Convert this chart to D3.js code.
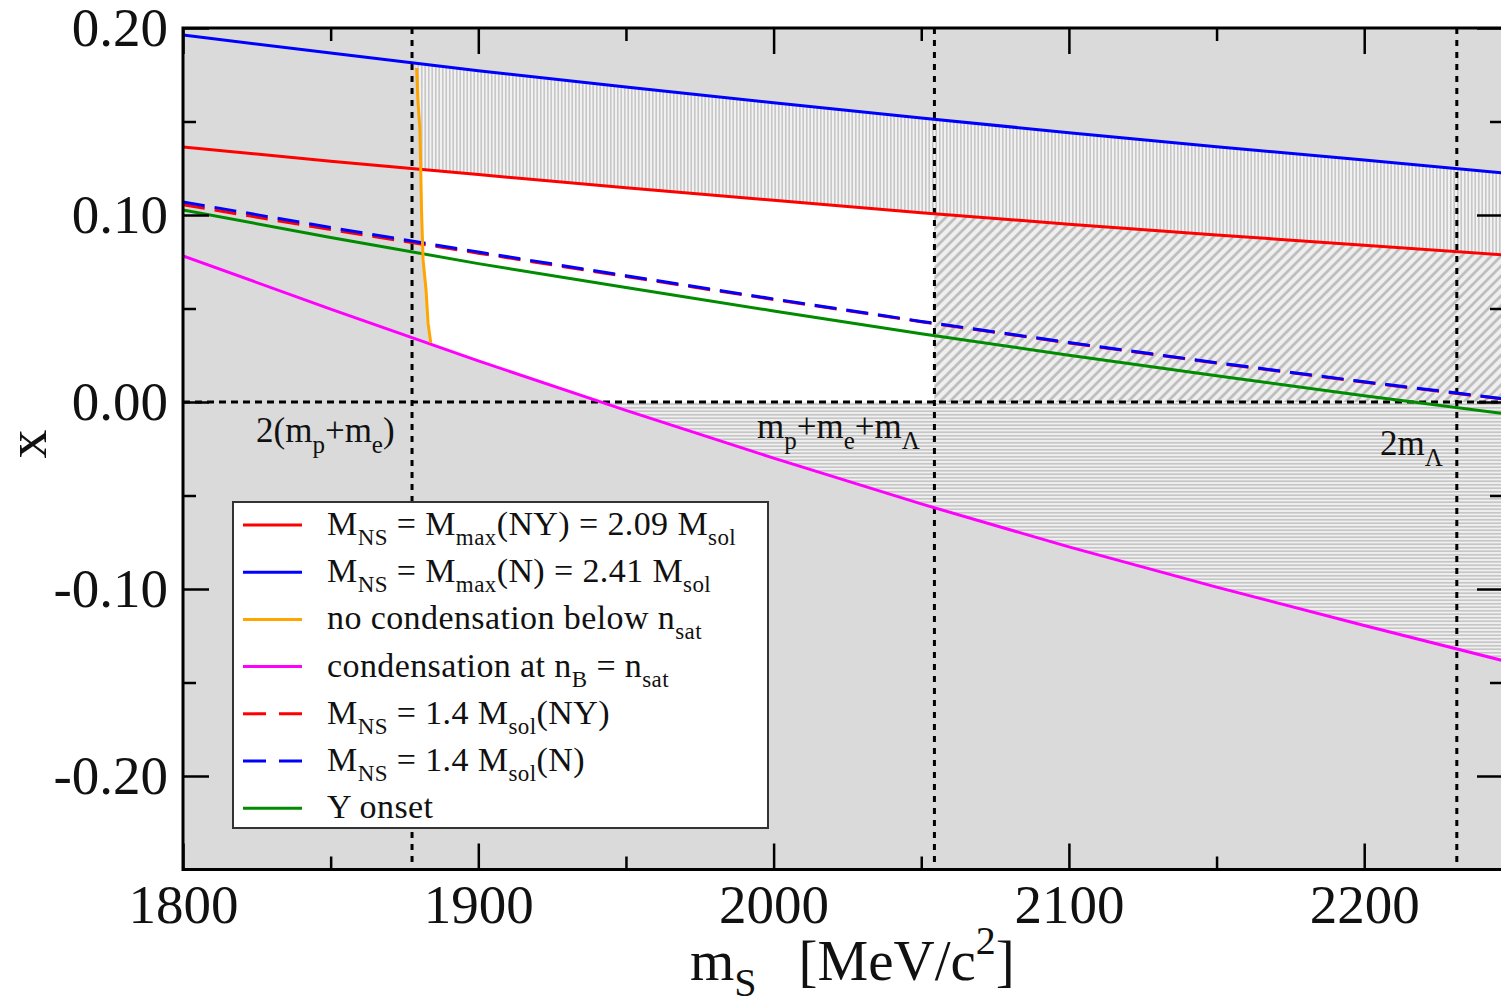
<!DOCTYPE html>
<html>
<head>
<meta charset="utf-8">
<script src="https://cdn.jsdelivr.net/npm/d3@7"></script>
<style>
  html, body { margin: 0; padding: 0; background: #ffffff; }
  svg { display: block; }
  text { font-family: "Liberation Serif", "Times New Roman", serif; fill: #111; }
</style>
</head>
<body>
<svg id="chart" width="1501" height="1006"></svg>
<script>
// Strange-quark-matter mass window: x versus m_S, curves sampled on a common grid
const mS        = [1800, 1850, 1900, 1950, 2000, 2050, 2100, 2150, 2200, 2250];
const xMaxN     = [0.1963, 0.1866, 0.1772, 0.1684, 0.1600, 0.1519, 0.1440, 0.1365, 0.1294, 0.1220];
const xMaxNY    = [0.1364, 0.1288, 0.1216, 0.1146, 0.1079, 0.1012, 0.0951, 0.0893, 0.0838, 0.0784];
const x14NY     = [0.1055, 0.0922, 0.0796, 0.0671, 0.0548, 0.0429, 0.0316, 0.0208, 0.0106, 0.0010];
const x14N      = [0.1070, 0.0933, 0.0802, 0.0675, 0.0551, 0.0431, 0.0318, 0.0210, 0.0108, 0.0012];
const xOnset    = [0.1027, 0.0880, 0.0740, 0.0612, 0.0487, 0.0365, 0.0250, 0.0140, 0.0034, -0.0068];
const xCondSat  = [0.0781, 0.0497, 0.0220, -0.0045, -0.0300, -0.0545, -0.0775, -0.0990, -0.1195, -0.1395];

// "no condensation below n_sat" boundary (nearly vertical)
const noCondMS  = [1879.1, 1879.6, 1880.2, 1880.5, 1880.8, 1881.3, 1882.3, 1883.0, 1883.9];
const noCondX   = [0.1786, 0.1600, 0.1465, 0.1250, 0.1010, 0.0760, 0.0600, 0.0420, 0.0316];

// Thresholds: 2(m_p+m_e), m_p+m_e+m_Λ, 2m_Λ
const thresholdMS = [1877.56, 2054.46, 2231.36];
const thresholdLabels = [
  [["2(m"], ["p", 1], ["+m"], ["e", 1], [")"]],
  [["m"], ["p", 1], ["+m"], ["e", 1], ["+m"], ["Λ", 1]],
  [["2m"], ["Λ", 1]]
];

const xTicks = [1800, 1900, 2000, 2100, 2200];
const xMinor = [1850, 1950, 2050, 2150, 2250];
const yTicks = [0.20, 0.10, 0.00, -0.10, -0.20];
const yMinor = [0.15, 0.05, -0.05, -0.15];

const legendItems = [
  { color: "#ff0000", dash: null, parts: [["M"], ["NS", 1], [" = M"], ["max", 1], ["(NY) = 2.09 M"], ["sol", 1]] },
  { color: "#0000ff", dash: null, parts: [["M"], ["NS", 1], [" = M"], ["max", 1], ["(N) = 2.41 M"], ["sol", 1]] },
  { color: "#ffa500", dash: null, parts: [["no condensation below n"], ["sat", 1]] },
  { color: "#ff00ff", dash: null, parts: [["condensation at n"], ["B", 1], [" = n"], ["sat", 1]] },
  { color: "#ff0000", dash: "22,10", parts: [["M"], ["NS", 1], [" = 1.4 M"], ["sol", 1], ["(NY)"]] },
  { color: "#0000ff", dash: "22,10", parts: [["M"], ["NS", 1], [" = 1.4 M"], ["sol", 1], ["(N)"]] },
  { color: "#008b00", dash: null, parts: [["Y onset"]] }
];

const svg = d3.select("#chart");
const L = 183, R = 1503, T = 28, B = 869.5;
const x = d3.scaleLinear().domain([1800, 2247]).range([L, R]);
const y = d3.scaleLinear().domain([-0.25, 0.20]).range([B, T]);
const mMax = 2250;

// piecewise-linear curve lookups
const curve = vals => d3.scaleLinear().domain(mS).range(vals);
const fMaxN = curve(xMaxN), fMaxNY = curve(xMaxNY), fCond = curve(xCondSat);

function sample(fn, a, b) {
  const pts = [[a, fn(a)]];
  mS.forEach(m => { if (m > a && m < b) pts.push([m, fn(m)]); });
  pts.push([b, fn(b)]);
  return pts;
}
// where the no-condensation boundary meets a curve
function meetNoCond(fn) {
  for (let i = 0; i < noCondMS.length - 1; i++) {
    const d0 = noCondX[i] - fn(noCondMS[i]), d1 = noCondX[i + 1] - fn(noCondMS[i + 1]);
    if (d0 >= 0 && d1 < 0) {
      const t = d0 / (d0 - d1);
      return { i, m: noCondMS[i] + t * (noCondMS[i + 1] - noCondMS[i]), v: noCondX[i] + t * (noCondX[i + 1] - noCondX[i]) };
    }
  }
  return { i: 0, m: noCondMS[0], v: noCondX[0] };
}
function zeroOf(vals) {
  for (let i = 0; i < vals.length - 1; i++) {
    if (vals[i] >= 0 && vals[i + 1] < 0) return mS[i] + vals[i] / (vals[i] - vals[i + 1]) * (mS[i + 1] - mS[i]);
  }
  return mMax;
}

const mLam = thresholdMS[1];
const cRed = meetNoCond(fMaxNY);
const mZero = zeroOf(xCondSat);
const nEnd = noCondMS.length - 1;

const defs = svg.append("defs");
defs.append("clipPath").attr("id", "plotClip").append("rect")
  .attr("x", L).attr("y", T).attr("width", R - L).attr("height", B - T);

function hatch(id, w, h, rot, lineW, bg, fg, vertical) {
  const p = defs.append("pattern").attr("id", id).attr("patternUnits", "userSpaceOnUse")
    .attr("width", w).attr("height", h);
  if (rot) p.attr("patternTransform", `rotate(${rot})`);
  p.append("rect").attr("width", w).attr("height", h).attr("fill", bg);
  if (vertical) p.append("line").attr("x1", w / 2).attr("x2", w / 2).attr("y1", 0).attr("y2", h).attr("stroke", fg).attr("stroke-width", lineW);
  else p.append("line").attr("y1", h / 2).attr("y2", h / 2).attr("x1", 0).attr("x2", w).attr("stroke", fg).attr("stroke-width", lineW);
}
hatch("vHatch", 3.5, 10, 0, 1.3, "#f4f4f4", "#b8b8b8", true);
hatch("dHatch", 7, 10, 45, 2.6, "#efefef", "#bababa", true);
hatch("hHatch", 10, 3.5, 0, 1.3, "#f0f0f0", "#b8b8b8", false);

// plot background
svg.append("rect").attr("x", L).attr("y", T).attr("width", R - L).attr("height", B - T).attr("fill", "#dadada");

const plot = svg.append("g").attr("clip-path", "url(#plotClip)");
const toPx = pts => pts.map(p => [x(p[0]), y(p[1])]);
const poly = pts => "M" + toPx(pts).map(p => p.join(",")).join("L") + "Z";

// vertical hatch: between the two M_max curves, right of the no-condensation boundary
{
  const top = sample(fMaxN, noCondMS[0], mMax);
  const bot = sample(fMaxNY, cRed.m, mMax).reverse();
  const left = [];
  for (let i = cRed.i; i >= 0; i--) left.push([noCondMS[i], noCondX[i]]);
  plot.append("path").attr("d", poly(top.concat(bot, left))).attr("fill", "url(#vHatch)");
}
// allowed window (white)
{
  const pts = [[cRed.m, cRed.v]].concat(sample(fMaxNY, cRed.m, mLam));
  pts.push([mLam, 0], [mZero, 0]);
  sample(fCond, noCondMS[nEnd], mZero).reverse().forEach(p => pts.push(p));
  for (let i = nEnd; i > cRed.i; i--) pts.push([noCondMS[i], noCondX[i]]);
  plot.append("path").attr("d", poly(pts)).attr("fill", "#ffffff");
}
// diagonal hatch: beyond the m_p+m_e+m_Λ threshold, 0 < x < M_max(NY)
{
  const pts = sample(fMaxNY, mLam, mMax).concat([[mMax, 0], [mLam, 0]]);
  plot.append("path").attr("d", poly(pts)).attr("fill", "url(#dHatch)");
}
// horizontal hatch: x < 0 above the condensation curve
{
  const pts = [[mZero, 0], [mMax, 0]].concat(sample(fCond, mZero, mMax).reverse());
  plot.append("path").attr("d", poly(pts)).attr("fill", "url(#hHatch)");
}

// dotted reference lines
plot.append("line").attr("x1", L).attr("x2", R).attr("y1", y(0)).attr("y2", y(0))
  .attr("stroke", "#000").attr("stroke-width", 3).attr("stroke-dasharray", "7,5");
plot.selectAll("line.thr").data(thresholdMS).join("line").attr("class", "thr")
  .attr("x1", d => x(d)).attr("x2", d => x(d)).attr("y1", T).attr("y2", B)
  .attr("stroke", "#000").attr("stroke-width", 3).attr("stroke-dasharray", "6,6");

// rich text with subscripts
function rich(sel, parts, size, subSize, shift) {
  sel.attr("font-size", size);
  let down = false;
  parts.forEach(([s, sub]) => {
    const t = sel.append("tspan").text(s);
    if (sub && !down) { t.attr("dy", shift).attr("font-size", subSize); down = true; }
    else if (sub) { t.attr("font-size", subSize); }
    else if (down) { t.attr("dy", -shift); down = false; }
  });
}

// threshold labels
const labelPos = [[256, 442], [757, 438], [1380, 455]];
thresholdLabels.forEach((parts, i) => {
  const t = svg.append("text").attr("x", labelPos[i][0]).attr("y", labelPos[i][1])
    .attr("fill", "#222").style("white-space", "pre");
  rich(t, parts, 35, 25, 11);
});

// curves
const line = d3.line().x(d => x(d[0])).y(d => y(d[1]));
const zipped = vals => mS.map((m, i) => [m, vals[i]]);
const curves = [
  { v: zipped(xCondSat), c: "#ff00ff", dash: null },
  { v: zipped(xOnset), c: "#008b00", dash: null },
  { v: zipped(x14NY), c: "#ff0000", dash: "22,10" },
  { v: zipped(x14N), c: "#0000ff", dash: "22,10" },
  { v: zipped(xMaxNY), c: "#ff0000", dash: null },
  { v: zipped(xMaxN), c: "#0000ff", dash: null },
  { v: noCondMS.map((m, i) => [m, noCondX[i]]), c: "#ffa500", dash: null }
];
curves.forEach(cv => {
  plot.append("path").attr("d", line(cv.v)).attr("fill", "none")
    .attr("stroke", cv.c).attr("stroke-width", 3)
    .attr("stroke-dasharray", cv.dash);
});

// legend
const lg = svg.append("g");
lg.append("rect").attr("x", 233).attr("y", 502).attr("width", 535).attr("height", 326)
  .attr("fill", "#ffffff").attr("stroke", "#333").attr("stroke-width", 2);
legendItems.forEach((it, i) => {
  const base = 535 + i * 47.2;
  lg.append("line").attr("x1", 243).attr("x2", 302).attr("y1", base - 10).attr("y2", base - 10)
    .attr("stroke", it.color).attr("stroke-width", 3).attr("stroke-dasharray", it.dash ? "23,13" : null);
  const t = lg.append("text").attr("x", 327).attr("y", base).style("white-space", "pre")
    .attr("letter-spacing", 0.4).attr("fill", "#111");
  rich(t, it.parts, 34, 23, 10);
});

// axes (inward ticks on all four sides)
const fmt = d => d3.format(".2f")(d).replace("\u2212", "-");
const axisStyle = g => {
  g.select(".domain").remove();
  g.selectAll(".tick line").attr("stroke", "#000").attr("stroke-width", 2.5);
  g.selectAll(".tick text").attr("font-family", "Liberation Serif, serif").attr("font-size", 55).attr("fill", "#111");
};
svg.append("g").attr("transform", `translate(${L},0)`)
  .call(d3.axisLeft(y).tickValues(yTicks).tickFormat(fmt).tickSizeInner(-26).tickSizeOuter(0).tickPadding(15)).call(axisStyle);
svg.append("g").attr("transform", `translate(${L},0)`)
  .call(d3.axisLeft(y).tickValues(yMinor).tickFormat("").tickSizeInner(-13).tickSizeOuter(0)).call(axisStyle);
svg.append("g").attr("transform", `translate(${R},0)`)
  .call(d3.axisRight(y).tickValues(yTicks).tickFormat("").tickSizeInner(-26).tickSizeOuter(0)).call(axisStyle);
svg.append("g").attr("transform", `translate(${R},0)`)
  .call(d3.axisRight(y).tickValues(yMinor).tickFormat("").tickSizeInner(-13).tickSizeOuter(0)).call(axisStyle);
svg.append("g").attr("transform", `translate(0,${B})`)
  .call(d3.axisBottom(x).tickValues(xTicks).tickFormat(d3.format("d")).tickSizeInner(-26).tickSizeOuter(0).tickPadding(14)).call(axisStyle);
svg.append("g").attr("transform", `translate(0,${B})`)
  .call(d3.axisBottom(x).tickValues(xMinor).tickFormat("").tickSizeInner(-13).tickSizeOuter(0)).call(axisStyle);
svg.append("g").attr("transform", `translate(0,${T})`)
  .call(d3.axisTop(x).tickValues(xTicks).tickFormat("").tickSizeInner(-26).tickSizeOuter(0)).call(axisStyle);
svg.append("g").attr("transform", `translate(0,${T})`)
  .call(d3.axisTop(x).tickValues(xMinor).tickFormat("").tickSizeInner(-13).tickSizeOuter(0)).call(axisStyle);

// frame
svg.append("rect").attr("x", L).attr("y", T).attr("width", R - L).attr("height", B - T)
  .attr("fill", "none").attr("stroke", "#000").attr("stroke-width", 3);

// axis titles
svg.append("text").attr("transform", "translate(46,444) rotate(-90)").attr("text-anchor", "middle")
  .attr("font-size", 58).attr("fill", "#111").text("x");
const xt = svg.append("text").attr("x", 690).attr("y", 980).attr("font-size", 57).attr("fill", "#111");
xt.append("tspan").text("m");
xt.append("tspan").text("S").attr("font-size", 40).attr("dy", 16);
xt.append("tspan").text("[MeV/c").attr("dy", -16).attr("dx", 42);
xt.append("tspan").text("2").attr("font-size", 40).attr("dy", -26);
xt.append("tspan").text("]").attr("dy", 26);
</script>
</body>
</html>
